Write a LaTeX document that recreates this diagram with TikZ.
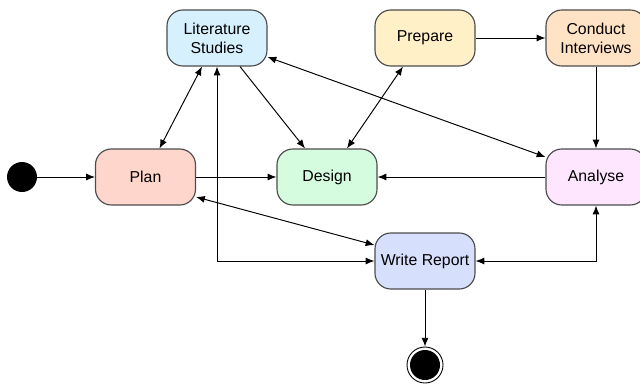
\documentclass[tikz,border=0pt]{standalone}
\usepackage{fontspec}
\setmainfont{Liberation Sans}
\usepackage{tikz}
\usetikzlibrary{arrows,arrows.meta,positioning,calc}
\definecolor{litcol}{HTML}{D6F1FD}
\definecolor{prepcol}{HTML}{FFF0C8}
\definecolor{condcol}{HTML}{FFE3C4}
\definecolor{plancol}{HTML}{FFD6CC}
\definecolor{descol}{HTML}{D6FCE0}
\definecolor{anacol}{HTML}{FDE6FE}
\definecolor{repcol}{HTML}{D6DFFC}
\tikzset{>={Latex[length=5pt,width=4pt]},
	state/.style={rounded corners=9pt,draw=black!70,line width=0.65pt,minimum width=2cm,minimum height=1.12cm,inner sep=1pt,align=center,font=\fontsize{9}{10.8}\selectfont},
	start/.style={circle,fill=black,minimum size=0.6cm,inner sep=0pt},
	stopout/.style={circle,draw=black,line width=0.5pt,fill=white,minimum size=0.72cm,inner sep=0pt},
	stopin/.style={circle,fill=black,minimum size=0.6cm,inner sep=0pt},
	flow/.style={->,line width=0.55pt},
	bflow/.style={<->,line width=0.55pt}}
\begin{document}
\begin{tikzpicture}
		\useasboundingbox (0,0) rectangle (12.8,7.7);
		\node (lit) at (4.34,6.94) [state,fill=litcol] {Literature\\Studies};
		\node (prep) at (8.5,6.94) [state,fill=prepcol] {Prepare};
		\node (cond) at (11.92,6.94) [state,fill=condcol] {Conduct\\Interviews};
		\node (plan) at (2.91,4.16) [state,fill=plancol] {Plan};
		\node (des) at (6.54,4.16) [state,fill=descol] {Design};
		\node (ana) at (11.92,4.16) [state,fill=anacol] {Analyse};
		\node (rep) at (8.5,2.48) [state,fill=repcol] {Write Report};
		\node (init) at (0.44,4.16) [start] {};
		\node (fin) at (8.5,0.4) [stopout] {};
		\node (finin) at (fin) [stopin] {};
		\draw [flow] (init) -- (plan);
		\draw [flow] (plan) -- (des);
		\draw [flow] (ana) -- (des);
		\draw [flow] (prep) -- (cond);
		\draw [flow] (cond) -- (ana);
		\draw [flow] (rep) -- (fin);
		\draw [bflow] ([xshift=-0.3cm]lit.south) -- ([xshift=0.28cm]plan.north);
		\draw [flow] ([xshift=0.46cm]lit.south) -- ([xshift=-0.44cm]des.north);
		\draw [bflow] ([xshift=-0.44cm]prep.south) -- ([xshift=0.4cm]des.north);
		\draw [bflow] ([yshift=-0.38cm]lit.east) -- ([yshift=0.4cm]ana.west);
		\draw [bflow] ([yshift=-0.4cm]plan.east) -- ([yshift=0.32cm]rep.west);
		\draw [bflow] (rep.west) -| (lit.south);
		\draw [bflow] (rep.east) -| (ana.south);
		\end{tikzpicture}
\end{document}
